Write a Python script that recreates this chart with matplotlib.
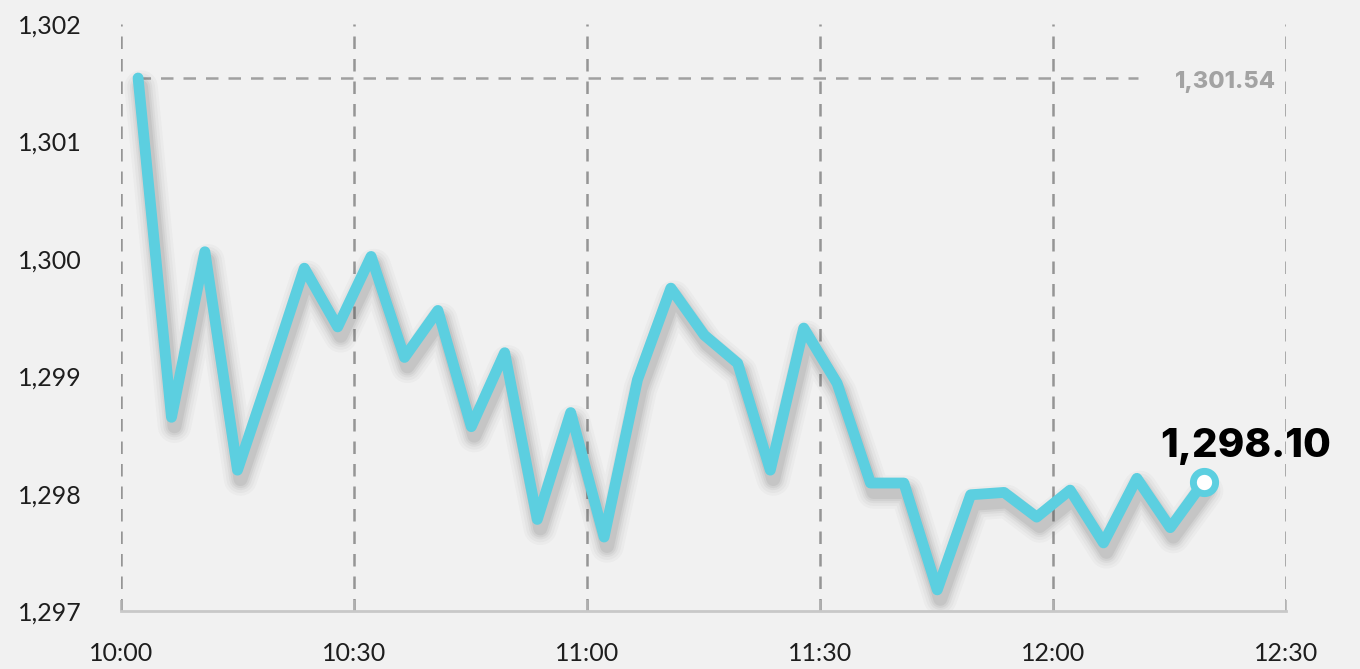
import matplotlib.pyplot as plt
import matplotlib.transforms as mtransforms

# minutes after 10:00 and price
minutes = [2.2, 6.5, 10.8, 15.0, 19.3, 23.6, 27.9, 32.2, 36.5, 40.8,
           45.1, 49.4, 53.6, 57.9, 62.2, 66.5, 70.8, 75.1, 79.4, 83.6,
           87.9, 92.2, 96.5, 100.8, 105.1, 109.4, 113.7, 117.9, 122.2,
           126.5, 130.8, 135.1, 139.4]
prices = [1301.54, 1298.65, 1300.06, 1298.20, 1299.05, 1299.92, 1299.42,
          1300.02, 1299.16, 1299.56, 1298.57, 1299.20, 1297.78, 1298.69,
          1297.63, 1298.97, 1299.75, 1299.35, 1299.11, 1298.20, 1299.41,
          1298.94, 1298.09, 1298.09, 1297.18, 1297.99, 1298.01, 1297.80,
          1298.03, 1297.58, 1298.13, 1297.71, 1298.10]
xticks = [0, 30, 60, 90, 120, 150]
xlabels = ['10:00', '10:30', '11:00', '11:30', '12:00', '12:30']
yticks = [1297, 1298, 1299, 1300, 1301, 1302]
ylabels = ['1,297', '1,298', '1,299', '1,300', '1,301', '1,302']
open_price = 1301.54
last_price = 1298.10

bg = '#f1f1f1'
cyan = '#5ccfe0'

plt.rcParams['font.family'] = ['Lato', 'DejaVu Sans']

fig = plt.figure(figsize=(13.6, 6.69), dpi=100, facecolor=bg)
ax = fig.add_axes([121 / 1360, 58 / 669, 1165 / 1360, 587 / 669])
ax.set_facecolor(bg)
ax.set_xlim(0, 150)
ax.set_ylim(1297, 1302)

# vertical dashed grid
for x in xticks:
    ax.axvline(x, color='#959595', lw=1.8, dashes=(5, 4), zorder=1)

# dashed line at the open price
ax.plot([minutes[0], 131], [open_price, open_price], color='#a0a0a0',
        lw=1.8, dashes=(5, 4), zorder=1)
ax.annotate('1,301.54', xy=(150, open_price), xytext=(-7, -3),
            textcoords='offset points', ha='right', va='center',
            fontsize=17, fontweight='heavy', color='#a3a3a3',
            family=['Inter', 'DejaVu Sans'])

# soft drop shadow under the line
for w, a in [(24, 0.03), (20, 0.04), (16, 0.05), (13, 0.06), (10, 0.08)]:
    shift = mtransforms.offset_copy(ax.transData, fig=fig, x=3, y=-9, units='dots')
    ax.plot(minutes, prices, color='#3a3a3a', lw=w, alpha=a,
            solid_joinstyle='round', solid_capstyle='round',
            transform=shift, zorder=2)

ax.plot(minutes, prices, color=cyan, lw=7.8, solid_joinstyle='round',
        solid_capstyle='round', zorder=3)
ax.plot(minutes[-1], prices[-1], 'o', ms=16, mfc='white', mec=cyan,
        mew=5, zorder=4)
ax.annotate('1,298.10', xy=(minutes[-1], last_price), xytext=(30, 12),
            textcoords='offset points', ha='center', va='bottom',
            fontsize=29, fontweight='heavy', color='black',
            family=['Inter', 'DejaVu Sans'])

ax.set_xticks(xticks)
ax.set_xticklabels(xlabels)
ax.set_yticks(yticks)
ax.set_yticklabels(ylabels)
ax.tick_params(axis='x', direction='in', length=8, width=1.2,
               color='#b5b5b5', pad=22, labelsize=18, labelcolor='#1e1e1e')
ax.tick_params(axis='y', length=0, pad=28, labelsize=18, labelcolor='#1e1e1e')

for s in ['top', 'right', 'left']:
    ax.spines[s].set_visible(False)
ax.spines['bottom'].set_color('#c8c8c8')
ax.spines['bottom'].set_linewidth(2)

fig.savefig('out.png', dpi=100, facecolor=bg)
